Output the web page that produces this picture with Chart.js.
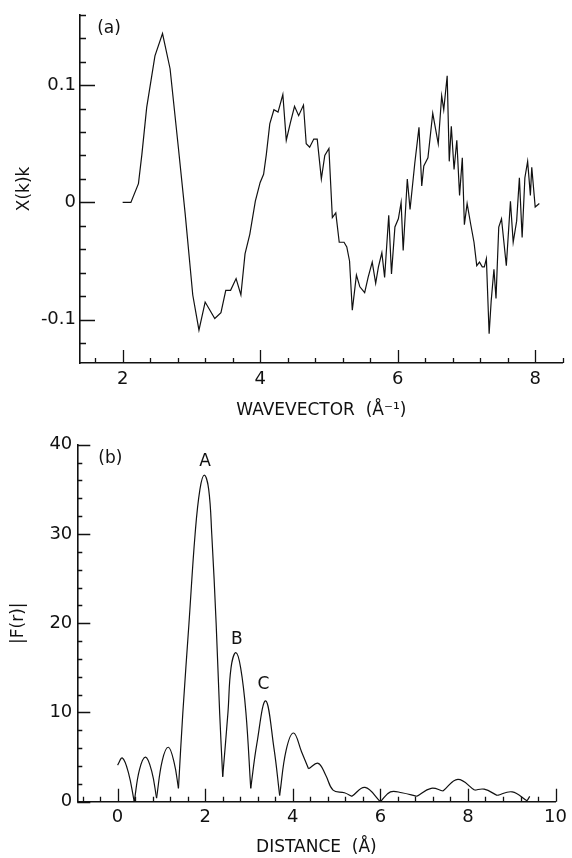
<!DOCTYPE html>
<html>
<head>
<meta charset="utf-8">
<script src="https://cdn.jsdelivr.net/npm/chart.js@4.4.1/dist/chart.umd.min.js"></script>
<style>
  html, body { margin: 0; padding: 0; background: #fff; }
  canvas { display: block; }
</style>
</head>
<body>
<canvas id="chartK" width="572" height="429"></canvas>
<canvas id="chartR" width="572" height="429"></canvas>
<script>
// (a) X(k)k against wavevector
var wavevector = [
  2.00, 2.12, 2.23, 2.28, 2.35, 2.47, 2.58, 2.69, 2.81, 2.91,
  3.02, 3.11, 3.20, 3.34, 3.43, 3.50, 3.57, 3.65, 3.72, 3.78,
  3.85, 3.93, 4.00, 4.05, 4.09, 4.14, 4.20, 4.26, 4.33, 4.38,
  4.44, 4.50, 4.56, 4.63, 4.67, 4.72, 4.78, 4.83, 4.89, 4.94,
  5.00, 5.05, 5.10, 5.15, 5.22, 5.26, 5.30, 5.34, 5.40, 5.45,
  5.52, 5.57, 5.63, 5.68, 5.72, 5.77, 5.81, 5.87, 5.91, 5.96,
  6.01, 6.05, 6.08, 6.14, 6.18, 6.25, 6.31, 6.35, 6.38, 6.44,
  6.51, 6.59, 6.64, 6.67, 6.72, 6.75, 6.78, 6.82, 6.86, 6.90,
  6.94, 6.97, 7.01, 7.06, 7.11, 7.15, 7.19, 7.23, 7.26, 7.29,
  7.33, 7.36, 7.40, 7.43, 7.47, 7.51, 7.58, 7.64, 7.68, 7.73,
  7.77, 7.81, 7.85, 7.89, 7.93, 7.95, 8.00, 8.06
];
var chiK = [
  0.000, 0.000, 0.016, 0.041, 0.081, 0.125, 0.144, 0.114, 0.047, -0.010,
  -0.079, -0.109, -0.085, -0.099, -0.094, -0.075, -0.075, -0.065, -0.079, -0.044,
  -0.027, 0.001, 0.017, 0.024, 0.041, 0.067, 0.079, 0.077, 0.092, 0.053,
  0.068, 0.082, 0.074, 0.083, 0.050, 0.047, 0.054, 0.054, 0.020, 0.040,
  0.046, -0.013, -0.009, -0.034, -0.034, -0.038, -0.050, -0.092, -0.062, -0.072,
  -0.077, -0.064, -0.051, -0.069, -0.055, -0.043, -0.064, -0.011, -0.061, -0.021,
  -0.014, 0.000, -0.041, 0.020, -0.006, 0.034, 0.064, 0.014, 0.031, 0.038,
  0.076, 0.050, 0.091, 0.079, 0.108, 0.035, 0.065, 0.028, 0.053, 0.006,
  0.038, -0.019, -0.001, -0.018, -0.034, -0.054, -0.051, -0.055, -0.055, -0.048,
  -0.112, -0.084, -0.057, -0.082, -0.021, -0.014, -0.054, 0.001, -0.034, -0.016,
  0.021, -0.030, 0.021, 0.035, 0.006, 0.030, -0.004, -0.001
];

// (b) |F(r)| against distance
var distance = [
  0.00, 0.11, 0.25, 0.38, 0.50, 0.64, 0.78, 0.89, 1.02, 1.16,
  1.29, 1.39, 1.49, 1.63, 1.77, 1.88, 1.98, 2.08, 2.15, 2.25,
  2.33, 2.40, 2.52, 2.59, 2.70, 2.81, 2.93, 3.04, 3.18, 3.38,
  3.57, 3.70, 3.85, 4.02, 4.20, 4.36, 4.58, 4.75, 4.92, 5.18,
  5.35, 5.65, 6.00, 6.23, 6.49, 6.83, 7.16, 7.43, 7.77, 8.15,
  8.37, 8.67, 9.01, 9.35, 9.41
];
var magnitudeF = [
  4.1, 4.9, 3.2, 0.0, 3.6, 5.0, 3.4, 0.4, 4.6, 6.1,
  4.4, 1.5, 10.0, 20.0, 30.0, 35.0, 36.6, 35.0, 30.0, 20.0,
  10.0, 2.8, 10.0, 15.0, 16.7, 15.0, 10.0, 1.5, 6.5, 11.3,
  6.0, 0.7, 5.8, 7.7, 5.6, 3.7, 4.3, 3.0, 1.3, 1.0,
  0.6, 1.6, 0.0, 1.1, 1.0, 0.6, 1.5, 1.2, 2.5, 1.3,
  1.4, 0.7, 1.1, 0.1, 0.6
];
var peakLabels = ['A', 'B', 'C'];
var peakR = [2.0, 2.72, 3.33];
var peakF = [38.1, 18.2, 13.1];

Chart.defaults.font.family = "'DejaVu Sans', sans-serif";
Chart.defaults.color = '#111';
Chart.defaults.animation = false;

function stepTicks(lo, hi, step) {
  var out = [];
  var n = Math.round((hi - lo) / step);
  for (var i = 0; i <= n; i++) out.push(Math.round((lo + i * step) * 1000) / 1000);
  return out;
}
function isMultiple(v, m) {
  return Math.abs(v / m - Math.round(v / m)) < 1e-6;
}
function toPoints(xs, ys) {
  return xs.map(function (x, i) { return {x: x, y: ys[i]}; });
}
// break the |F| curve at its sharp minima so each arch is smoothed on its own
function splitAtCusps(xs, ys) {
  var parts = [], current = [];
  for (var i = 0; i < xs.length; i++) {
    current.push({x: xs[i], y: ys[i]});
    if (i > 0 && i < xs.length - 1 && ys[i] < ys[i - 1] && ys[i] < ys[i + 1]) {
      parts.push(current);
      current = [{x: xs[i], y: ys[i]}];
    }
  }
  parts.push(current);
  return parts;
}

// tick marks point into the plot, long ones at labelled values
var inwardTicks = {
  id: 'inwardTicks',
  afterDraw: function (chart, args, opts) {
    var ctx = chart.ctx, area = chart.chartArea;
    var xs = chart.scales.x, ys = chart.scales.y;
    ctx.save();
    ctx.strokeStyle = '#111';
    ctx.lineWidth = 1.3;
    ctx.beginPath();
    xs.ticks.forEach(function (t) {
      var px = Math.round(xs.getPixelForValue(t.value)) + 0.5;
      var len = isMultiple(t.value, opts.xMajor) ? opts.xLong : opts.xShort;
      ctx.moveTo(px, area.bottom);
      ctx.lineTo(px, area.bottom - len);
    });
    ys.ticks.forEach(function (t) {
      var py = Math.round(ys.getPixelForValue(t.value)) + 0.5;
      var len = isMultiple(t.value, opts.yMajor) ? opts.yLong : opts.yShort;
      ctx.moveTo(area.left, py);
      ctx.lineTo(area.left + len, py);
    });
    ctx.stroke();
    ctx.restore();
  }
};

function textMarks(items) {
  return {
    id: 'textMarks',
    afterDatasetsDraw: function (chart) {
      var ctx = chart.ctx;
      ctx.save();
      ctx.fillStyle = '#111';
      ctx.font = "17px 'DejaVu Sans', sans-serif";
      ctx.textBaseline = 'middle';
      items.forEach(function (it) {
        ctx.textAlign = it.align || 'center';
        ctx.fillText(it.text, chart.scales.x.getPixelForValue(it.x), chart.scales.y.getPixelForValue(it.y));
      });
      ctx.restore();
    }
  };
}

var tickFont = {size: 18};
var titleFont = {size: 17};

var kTicks = stepTicks(1.6, 8.4, 0.4);
var chiTicks = stepTicks(-0.12, 0.16, 0.02);

new Chart(document.getElementById('chartK'), {
  type: 'line',
  data: {
    datasets: [{
      data: toPoints(wavevector, chiK),
      borderColor: '#111',
      borderWidth: 1.2,
      pointRadius: 0,
      tension: 0,
      fill: false
    }]
  },
  options: {
    responsive: false,
    layout: {padding: {top: 14, right: 9.3, left: 0, bottom: 0}},
    plugins: {
      legend: {display: false},
      tooltip: {enabled: false},
      inwardTicks: {xMajor: 2, yMajor: 0.1, xLong: 13, xShort: 5, yLong: 15, yShort: 6}
    },
    scales: {
      x: {
        type: 'linear',
        min: 1.38,
        max: 8.4,
        afterBuildTicks: function (s) { s.ticks = kTicks.map(function (v) { return {value: v}; }); },
        afterFit: function (s) { s.height = 66; },
        grid: {display: false, drawTicks: false},
        border: {display: true, color: '#111', width: 1.6},
        ticks: {
          autoSkip: false, maxRotation: 0, padding: 6, font: tickFont,
          callback: function (v) { return isMultiple(v, 2) ? String(Math.round(v)) : ''; }
        },
        title: {display: true, text: 'WAVEVECTOR  (Å⁻¹)', font: titleFont, padding: {top: 0, bottom: 7.8}}
      },
      y: {
        type: 'linear',
        min: -0.137,
        max: 0.16,
        afterBuildTicks: function (s) { s.ticks = chiTicks.map(function (v) { return {value: v}; }); },
        afterFit: function (s) { s.width = 80; },
        grid: {display: false, drawTicks: false},
        border: {display: true, color: '#111', width: 1.6},
        ticks: {
          autoSkip: false, padding: 4, font: tickFont,
          callback: function (v) {
            if (!isMultiple(v, 0.1)) return '';
            return Math.abs(v) < 1e-9 ? '0' : v.toFixed(1);
          }
        },
        title: {display: true, text: 'X(k)k', font: titleFont, padding: {top: 14.8, bottom: 0}}
      }
    }
  },
  plugins: [inwardTicks, textMarks([{text: '(a)', x: 1.63, y: 0.148, align: 'left'}])]
});

var rTicks = stepTicks(-0.8, 10, 0.4);
var fTicks = stepTicks(0, 40, 2);

var archMarks = [{text: '(b)', x: -0.44, y: 38.5, align: 'left'}];
peakLabels.forEach(function (name, i) {
  archMarks.push({text: name, x: peakR[i], y: peakF[i]});
});

new Chart(document.getElementById('chartR'), {
  type: 'line',
  data: {
    datasets: splitAtCusps(distance, magnitudeF).map(function (part) {
      return {
        data: part,
        borderColor: '#111',
        borderWidth: 1.2,
        pointRadius: 0,
        tension: 0.4,
        fill: false
      };
    })
  },
  options: {
    responsive: false,
    layout: {padding: {top: 12.7, right: 9.3, left: 0, bottom: 0}},
    plugins: {
      legend: {display: false},
      tooltip: {enabled: false},
      inwardTicks: {xMajor: 2, yMajor: 10, xLong: 13, xShort: 5, yLong: 13, yShort: 5}
    },
    scales: {
      x: {
        type: 'linear',
        min: -0.92,
        max: 10,
        afterBuildTicks: function (s) { s.ticks = rTicks.map(function (v) { return {value: v}; }); },
        afterFit: function (s) { s.height = 56.3; },
        grid: {display: false, drawTicks: false},
        border: {display: true, color: '#111', width: 1.6},
        ticks: {
          autoSkip: false, maxRotation: 0, padding: 5, font: tickFont,
          callback: function (v) { return isMultiple(v, 2) ? String(Math.round(v)) : ''; }
        },
        title: {display: true, text: 'DISTANCE  (Å)', font: titleFont, padding: {top: 0, bottom: 0}}
      },
      y: {
        type: 'linear',
        min: 0,
        max: 40,
        afterBuildTicks: function (s) { s.ticks = fTicks.map(function (v) { return {value: v}; }); },
        afterFit: function (s) { s.width = 77.3; },
        grid: {display: false, drawTicks: false},
        border: {display: true, color: '#111', width: 1.6},
        ticks: {
          autoSkip: false, padding: 5, font: tickFont,
          callback: function (v) { return isMultiple(v, 10) ? String(Math.round(v)) : ''; }
        },
        title: {display: true, text: '|F(r)|', font: titleFont, padding: {top: 8.8, bottom: 0}}
      }
    }
  },
  plugins: [inwardTicks, textMarks(archMarks)]
});
</script>
</body>
</html>
